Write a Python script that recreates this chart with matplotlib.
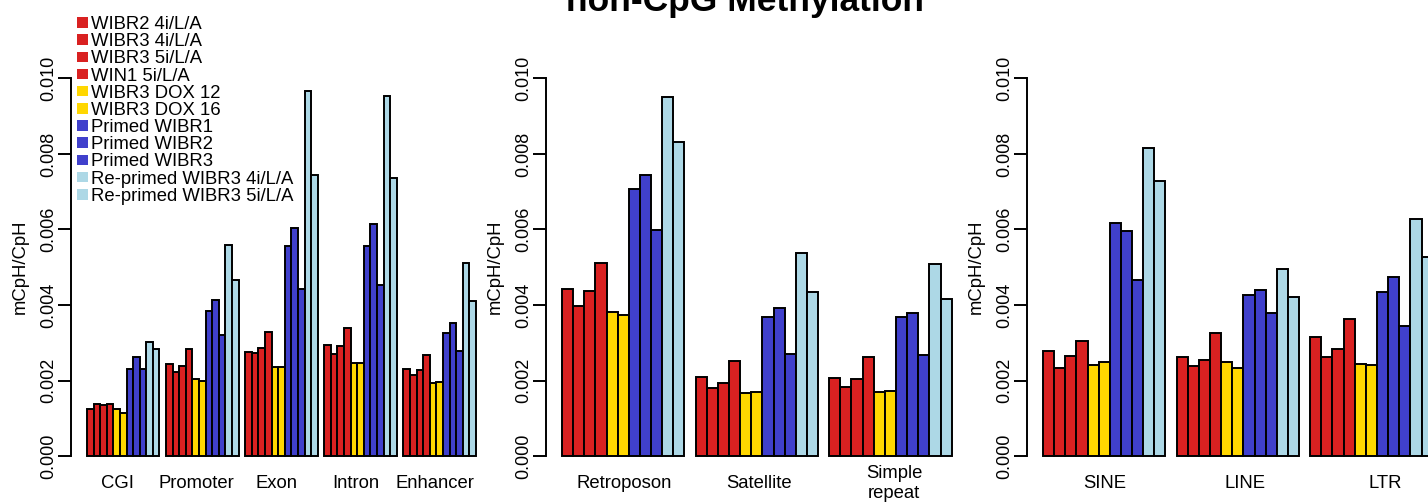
#! /usr/bin/env python3

import numpy as np
import matplotlib
matplotlib.use("Agg")
import matplotlib.pyplot as plt
from matplotlib.patches import Patch

plt.rcParams['font.family'] = ['Liberation Sans', 'DejaVu Sans']

# samples (one bar per sample inside every genomic feature)
samples = ['WIBR2 4i/L/A', 'WIBR3 4i/L/A', 'WIBR3 5i/L/A', 'WIN1 5i/L/A',
           'WIBR3 DOX 12', 'WIBR3 DOX 16',
           'Primed WIBR1', 'Primed WIBR2', 'Primed WIBR3',
           'Re-primed WIBR3 4i/L/A', 'Re-primed WIBR3 5i/L/A']
sample_colors = ['#d92121'] * 4 + ['#ffd700'] * 2 + ['#4040cc'] * 3 + ['#add8e6'] * 2

# mCpH/CpH per feature, x1e-3, same order as samples
features_1 = ['CGI', 'Promoter', 'Exon', 'Intron', 'Enhancer']
mch_1 = [
    [1.25, 1.38, 1.36, 1.39, 1.25, 1.15, 2.30, 2.61, 2.30, 3.01, 2.83],
    [2.43, 2.22, 2.38, 2.84, 2.03, 2.00, 3.85, 4.13, 3.21, 5.60, 4.66],
    [2.76, 2.72, 2.85, 3.28, 2.36, 2.36, 5.55, 6.04, 4.42, 9.68, 7.45],
    [2.93, 2.70, 2.91, 3.39, 2.47, 2.46, 5.57, 6.15, 4.52, 9.54, 7.37],
    [2.30, 2.14, 2.28, 2.68, 1.93, 1.96, 3.26, 3.53, 2.77, 5.12, 4.11],
]

features_2 = ['Retroposon', 'Satellite', 'Simple\nrepeat']
mch_2 = [
    [4.42, 3.98, 4.37, 5.10, 3.81, 3.74, 7.08, 7.44, 5.99, 9.50, 8.32],
    [2.09, 1.79, 1.93, 2.52, 1.68, 1.70, 3.69, 3.92, 2.70, 5.37, 4.35],
    [2.07, 1.84, 2.04, 2.63, 1.69, 1.72, 3.68, 3.79, 2.67, 5.08, 4.17],
]

features_3 = ['SINE', 'LINE', 'LTR']
mch_3 = [
    [2.78, 2.32, 2.66, 3.04, 2.42, 2.50, 6.16, 5.96, 4.67, 8.15, 7.29],
    [2.61, 2.39, 2.53, 3.26, 2.49, 2.34, 4.27, 4.40, 3.80, 4.96, 4.20],
    [3.16, 2.63, 2.83, 3.62, 2.45, 2.42, 4.34, 4.74, 3.45, 6.28, 5.27],
]

yticks = [0.000, 0.002, 0.004, 0.006, 0.008, 0.010]

W, H = 1428, 504
fig = plt.figure(figsize=(W / 100, H / 100), dpi=100)

# panel boxes in pixels: (left, width), and where the feature names sit (first, step) in bar units
panel_px = [(71.4, 420.1), (546.4, 420.9), (1027.4, 420.9)]
label_at = [(5.55, 12.07), (6.56, 12.13), (6.5, 12.63)]
bottom_px, top_px = 471.1, 63.4


def grouped_bars(ax, features, values, lab_first, lab_step):
    nser = len(samples)
    vals = np.array(values) * 1e-3
    for g, row in enumerate(vals):
        left = 1 + g * (nser + 1) + np.arange(nser)
        ax.bar(left, row, width=1, align='edge', color=sample_colors,
               edgecolor='black', linewidth=1.4)
    span = len(features) * (nser + 1) - 1
    ax.set_xlim(1 - 0.04 * span, 1 + span + 0.04 * span)
    ax.set_ylim(-0.0004, 0.0104)
    ax.set_xticks(lab_first + lab_step * np.arange(len(features)), features)
    ax.tick_params(axis='x', length=0, pad=9, labelsize=13.3)
    for lab in ax.get_xticklabels():
        lab.set_va('center')
    ax.set_yticks(yticks, [f'{t:.3f}' for t in yticks])
    ax.tick_params(axis='y', length=9.5, width=1.4, pad=0.8, labelsize=13)
    for lab in ax.get_yticklabels():
        lab.set_rotation(90)
        lab.set_va('center')
    ax.spines['left'].set_bounds(0, 0.010)
    ax.spines['left'].set_linewidth(1.4)
    for s in ['top', 'right', 'bottom']:
        ax.spines[s].set_visible(False)
    ax.set_ylabel('mCpH/CpH', fontsize=13.3, labelpad=8)


for (left, width), (lf, ls), feats, vals in zip(panel_px, label_at,
                                                [features_1, features_2, features_3],
                                                [mch_1, mch_2, mch_3]):
    ax = fig.add_axes([left / W, 1 - bottom_px / H, width / W, (bottom_px - top_px) / H])
    grouped_bars(ax, feats, vals, lf, ls)

fig.text(745 / W, 1 - 11 / H, 'non-CpG Methylation', ha='center', va='baseline',
         fontsize=25.5, fontweight='bold')

handles = [Patch(facecolor=c, edgecolor='none') for c in sample_colors]
fig.legend(handles, samples, loc='upper left', bbox_to_anchor=(77 / W, 1 - 16 / H),
           frameon=False, fontsize=13.3, handlelength=0.6, handleheight=0.5,
           handletextpad=0.17, labelspacing=0.01, borderpad=0, borderaxespad=0)

plt.savefig("out.png", dpi=100)
plt.close(fig)
